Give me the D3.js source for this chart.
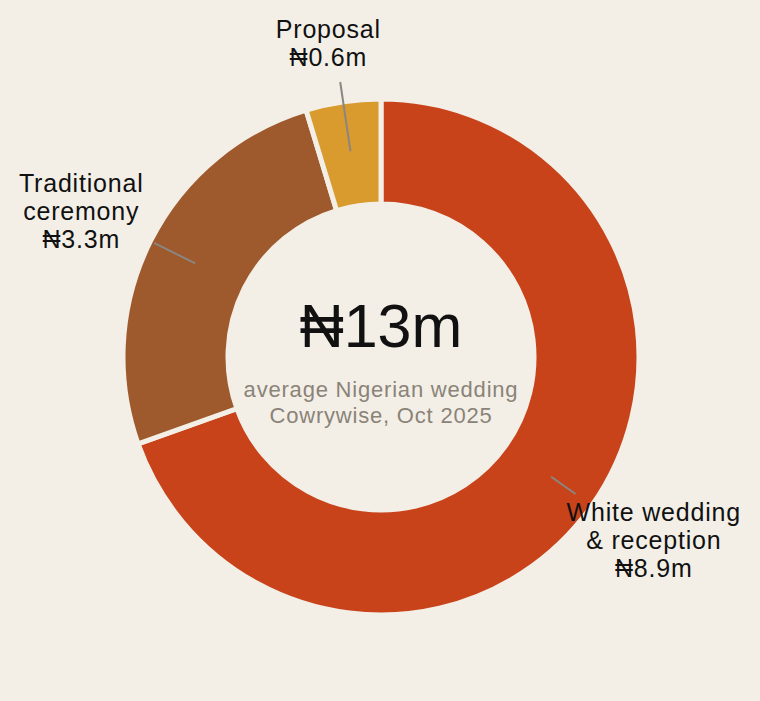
<!DOCTYPE html>
<html>
<head>
<meta charset="utf-8">
<script src="https://cdn.jsdelivr.net/npm/d3@7"></script>
<style>
  body { margin: 0; background: #f3efe7; }
  svg { display: block; font-family: "Liberation Sans", Arial, sans-serif; }
</style>
</head>
<body>
<div id="chart"></div>
<script>
var svgWidth = 760;
var svgHeight = 701;

// data
var categories = ["White wedding\n& reception", "Traditional\nceremony", "Proposal"];
var values = [8.9, 3.3, 0.6];
var valueLabels = ["₦8.9m", "₦3.3m", "₦0.6m"];
var colors = ["#c8431a", "#9e5a2c", "#d99a2e"];

var total = "₦13m";
var subtitle = ["average Nigerian wedding", "Cowrywise, Oct 2025"];

var cx = 381, cy = 357;
var outerR = 258, innerR = 153;
// label radius, nudges and leader line end for each slice
var labelR = [330, 330, 318];
var labelDx = [3, -5, -6];
var labelDy = [-6, 3, 2];
var lineEnd = [238, 254, 278];

var svg = d3.select("#chart")
    .append("svg")
    .attr("width", svgWidth)
    .attr("height", svgHeight);

svg.append("rect")
    .attr("width", svgWidth)
    .attr("height", svgHeight)
    .attr("fill", "#f3efe7");

var g = svg.append("g")
    .attr("transform", `translate(${cx}, ${cy})`);

var pie = d3.pie().sort(null).value(d => d);
var arcs = pie(values);

var arc = d3.arc()
    .innerRadius(innerR)
    .outerRadius(outerR);

g.selectAll("path")
    .data(arcs)
    .enter()
    .append("path")
    .attr("d", arc)
    .attr("fill", (d, i) => colors[i])
    .attr("stroke", "#f3efe7")
    .attr("stroke-width", 5);

function pt(a, r) {
    return [Math.sin(a) * r, -Math.cos(a) * r];
}

// leader lines
g.selectAll(".leader")
    .data(arcs)
    .enter()
    .append("line")
    .attr("class", "leader")
    .each(function (d, i) {
        var a = (d.startAngle + d.endAngle) / 2;
        var p1 = pt(a, 208), p2 = pt(a, lineEnd[i]);
        d3.select(this)
            .attr("x1", p1[0]).attr("y1", p1[1])
            .attr("x2", p2[0]).attr("y2", p2[1]);
    })
    .attr("stroke", "#8a8680")
    .attr("stroke-width", 2);

// labels
var labels = g.selectAll(".label")
    .data(arcs)
    .enter()
    .append("text")
    .attr("class", "label")
    .attr("text-anchor", "middle")
    .attr("font-size", 25)
    .attr("letter-spacing", 0.8)
    .attr("fill", "#111");

labels.each(function (d, i) {
    var a = (d.startAngle + d.endAngle) / 2;
    var p = pt(a, labelR[i]);
    var lines = categories[i].split("\n").concat([valueLabels[i]]);
    var lh = 28;
    var y0 = p[1] - (lines.length - 1) * lh / 2 + 8 + labelDy[i];
    d3.select(this).selectAll("tspan")
        .data(lines)
        .enter()
        .append("tspan")
        .attr("x", p[0] + labelDx[i])
        .attr("y", (t, j) => y0 + j * lh)
        .text(t => t);
});

// centre text
g.append("text")
    .attr("text-anchor", "middle")
    .attr("y", -10)
    .attr("font-size", 61)
    .attr("fill", "#111")
    .text(total);

g.append("text")
    .attr("text-anchor", "middle")
    .attr("font-size", 22)
    .attr("letter-spacing", 0.8)
    .attr("fill", "#8a8378")
    .selectAll("tspan")
    .data(subtitle)
    .enter()
    .append("tspan")
    .attr("x", 0)
    .attr("y", (t, j) => 40 + j * 26)
    .text(t => t);
</script>
</body>
</html>
